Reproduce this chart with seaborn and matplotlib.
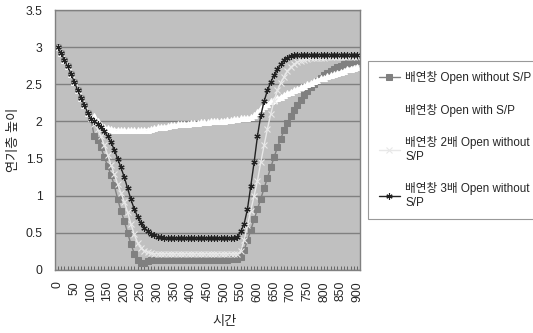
import matplotlib
matplotlib.use("Agg")
import matplotlib.pyplot as plt
import seaborn as sns
import pandas as pd

time = list(range(0, 901, 10))
tick_labels = [str(v) for v in range(0, 901, 50)]

start = [3.0, 2.92, 2.83, 2.74, 2.64, 2.53, 2.42, 2.32, 2.22, 2.12, 2.03]

s1 = start + [1.8, 1.75, 1.65, 1.52, 1.4, 1.28, 1.14, 0.96, 0.8, 0.66, 0.5, 0.35, 0.22, 0.13, 0.09, 0.1, 0.12, 0.13,
              0.14, 0.14, 0.14, 0.14, 0.14, 0.14, 0.14, 0.14, 0.14, 0.14, 0.14, 0.14, 0.14,
              0.14, 0.14, 0.14, 0.14, 0.14, 0.14, 0.14, 0.14, 0.14, 0.14, 0.15, 0.15, 0.15,
              0.17, 0.27, 0.4, 0.54, 0.68, 0.82, 0.96, 1.1, 1.24, 1.38, 1.52, 1.65, 1.77, 1.88, 1.98,
              2.07, 2.15, 2.22, 2.29, 2.35, 2.41, 2.46, 2.51, 2.55, 2.59, 2.62, 2.65, 2.68, 2.71,
              2.73, 2.75, 2.77, 2.79, 2.8, 2.81, 2.82]

s2 = [3.0, 2.92, 2.83, 2.74, 2.64, 2.53, 2.42, 2.32, 2.22, 2.12, 2.05] + \
     [2.07, 2.0, 1.95, 1.93, 1.91, 1.9, 1.89, 1.89, 1.88, 1.88, 1.88, 1.88, 1.88, 1.88, 1.88,
      1.89, 1.89, 1.9, 1.91, 1.92, 1.93, 1.93, 1.94, 1.95, 1.95, 1.96, 1.96, 1.97, 1.97, 1.98,
      1.98, 1.98, 1.99, 1.99, 1.99, 2.0, 2.0, 2.0, 2.01, 2.01, 2.02, 2.02, 2.03, 2.03, 2.04,
      2.05, 2.05, 2.06, 2.08, 2.13, 2.18, 2.21, 2.24, 2.27, 2.29, 2.31, 2.33, 2.36, 2.38, 2.4,
      2.42, 2.44, 2.46, 2.48, 2.5, 2.52, 2.54, 2.56, 2.58, 2.59, 2.61, 2.62, 2.64, 2.65, 2.67,
      2.68, 2.7, 2.71, 2.72, 2.73]

s3 = start + [1.97, 1.9, 1.8, 1.68, 1.55, 1.42, 1.29, 1.16, 1.04, 0.92, 0.78, 0.62, 0.48, 0.37, 0.3, 0.26, 0.24, 0.23,
              0.22, 0.22, 0.22, 0.22, 0.22, 0.22, 0.22, 0.22, 0.22, 0.22, 0.22, 0.22, 0.22,
              0.22, 0.22, 0.22, 0.22, 0.22, 0.22, 0.22, 0.22, 0.22, 0.22, 0.22, 0.22, 0.22,
              0.25, 0.4, 0.6, 0.8, 1.0, 1.2, 1.45, 1.68, 1.9, 2.1, 2.28, 2.42, 2.52, 2.6, 2.68,
              2.73, 2.77, 2.8, 2.82, 2.83, 2.84, 2.85, 2.85, 2.86, 2.86, 2.86, 2.87, 2.87, 2.87,
              2.87, 2.87, 2.87, 2.87, 2.87, 2.87, 2.87]

s4 = start + [2.0, 1.97, 1.92, 1.87, 1.8, 1.72, 1.62, 1.5, 1.38, 1.25, 1.1, 0.95, 0.82, 0.72, 0.63, 0.57, 0.52,
              0.49, 0.47, 0.45, 0.44,
              0.43, 0.43, 0.43, 0.43, 0.43, 0.43, 0.43, 0.43, 0.43, 0.43, 0.43,
              0.43, 0.43, 0.43, 0.43, 0.43, 0.43, 0.43, 0.43, 0.43, 0.43, 0.43,
              0.45, 0.52, 0.62, 0.82, 1.13, 1.45, 1.8, 2.08, 2.27, 2.42, 2.53, 2.62, 2.7, 2.77,
              2.83, 2.86, 2.88,
              2.9, 2.9, 2.9, 2.9, 2.9, 2.9, 2.9, 2.9, 2.9, 2.9,
              2.9, 2.9, 2.9, 2.9, 2.9, 2.9, 2.9, 2.9, 2.9, 2.9]

labels = ["배연창 Open without S/P", "배연창 Open with S/P",
          "배연창 2배 Open without\nS/P", "배연창 3배 Open without\nS/P"]

sns.set_theme(style="white")
plt.rcParams['font.family'] = ['Liberation Sans', 'Noto Sans CJK KR', 'DejaVu Sans']

fig = plt.figure(figsize=(5.33, 3.33), dpi=100)
ax = fig.add_axes([55/533, 1 - 270/333, 305/533, 260/333])
ax.set_facecolor('#c0c0c0')

styles = [
    dict(color='#808080', marker='s', markersize=4.0, markeredgecolor='#808080', linewidth=1),
    dict(color='#ffffff', marker='^', markersize=4.5, markeredgecolor='#ffffff', linewidth=1.2),
    dict(color='#e8e8e8', marker='x', markersize=3.8, markeredgecolor='#e8e8e8', markeredgewidth=0.8, linewidth=1),
    dict(color='#222222', marker=(6, 2, 0), markersize=4.5, markeredgecolor='#222222', markeredgewidth=0.8, linewidth=1),
]
for s, lab, st in zip([s1, s2, s3, s4], labels, styles):
    df = pd.DataFrame({"t": time, "v": s})
    sns.lineplot(data=df, x="t", y="v", ax=ax, label=lab, **st)

ax.set_xlim(-8, 908)
ax.set_ylim(0, 3.5)
ax.set_yticks([0, 0.5, 1, 1.5, 2, 2.5, 3, 3.5])
ax.set_yticklabels(["0", "0.5", "1", "1.5", "2", "2.5", "3", "3.5"])
ax.yaxis.grid(True, color='#808080', linewidth=1)
ax.set_axisbelow(True)
ax.set_xticks(list(range(0, 901, 50)))
ax.set_xticklabels(tick_labels, rotation=90)
ax.set_xticks(time, minor=True)
ax.tick_params(axis='x', which='both', direction='in', length=3, color='#555555', width=0.6,
               labelsize=8.7, pad=8, bottom=True)
ax.tick_params(axis='y', length=0, labelsize=8.7, pad=9)
for sp in ax.spines.values():
    sp.set_color('#808080')
    sp.set_linewidth(1)
ax.set_xlabel("시간", fontsize=9.5)
ax.set_ylabel("연기층 높이", fontsize=9.5)
ax.xaxis.set_label_coords(170/305, -(322 - 270)/260)
ax.yaxis.set_label_coords(-(55 - 14)/305, 0.5)
ax.xaxis.label.set_va('center')
ax.yaxis.label.set_va('center')

ax.get_legend().remove()
h, l = ax.get_legend_handles_labels()
leg = fig.legend(h, l, loc='upper left', bbox_to_anchor=(368/533, 1 - 61/333),
                 frameon=True, fancybox=False, fontsize=8.4, labelspacing=1.65,
                 handlelength=1.8, handletextpad=0.5, borderpad=0.9, borderaxespad=0)
leg.get_frame().set_edgecolor('#808080')
leg.get_frame().set_facecolor('white')
leg.get_frame().set_linewidth(0.8)

fig.savefig("out.png", dpi=100, facecolor='white')
